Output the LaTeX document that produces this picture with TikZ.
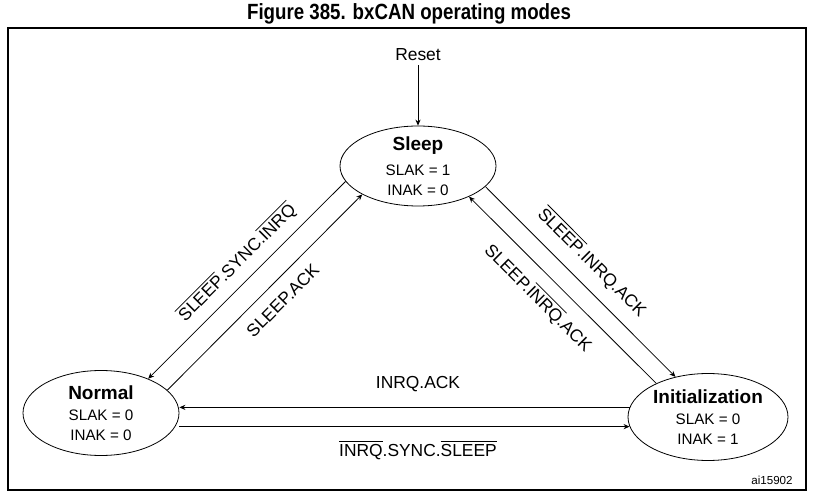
\documentclass[tikz,border=0pt]{standalone}
\usepackage{fontspec}
\setmainfont{Liberation Sans}
\newfontfamily\narrowsans[FakeStretch=0.85]{Liberation Sans}
\usepackage{tikz}
\usetikzlibrary{arrows.meta,shapes.geometric}
\newcommand{\ovl}[1]{$\overline{\mbox{#1}}$}
\newcommand{\modename}[1]{{\fontsize{9.5}{11}\selectfont\bfseries #1}}

\begin{document}
\begin{tikzpicture}[
  x=0.5pt, y=-0.5pt,
  mode/.style={draw, ellipse, line width=0.4pt, inner xsep=0pt, inner ysep=-2pt,
    align=center, font=\fontsize{7.6}{9.7}\selectfont},
  arr/.style={-{Stealth[length=3pt, width=2.6pt]}, line width=0.4pt},
  lbl/.style={font=\fontsize{8.7}{10}\selectfont, inner sep=2pt},
  frame/.style={line width=0.6pt}
]
  \useasboundingbox (0,0) rectangle (814,497);
  \node[font=\narrowsans\fontsize{11}{13}\selectfont\bfseries] (title) at (409,14)
    {Figure 385. bxCAN operating modes};
  \draw[frame] (8,28) rectangle (806,490);

  % operating modes
  \node[mode, minimum width=78pt, minimum height=40pt] (sleep) at (418,166)
    {\modename{Sleep}\\[3.1pt] SLAK = 1\\ INAK = 0};
  \node[mode, minimum width=78pt, minimum height=42.5pt] (normal) at (101,413)
    {\modename{Normal}\\[0.8pt] SLAK = 0\\ INAK = 0};
  \node[mode, minimum width=80pt, minimum height=43.5pt] (init) at (708,417)
    {\modename{Initialization}\\[1.1pt] SLAK = 0\\ INAK = 1};

  \node[lbl] (reset) at (418,55) {Reset};
  \draw[arr] (reset) -- (sleep);

  % sleep <-> normal
  \draw[arr] (sleep.192) -- node[lbl, sloped, above=3pt, pos=0.48]
    {\ovl{SLEEP}.SYNC.\ovl{INRQ}} (normal.36);
  \draw[arr] (normal.19.4) -- node[lbl, sloped, below=4pt, pos=0.525]
    {SLEEP.ACK} (sleep.207);

  % sleep <-> initialization
  \draw[arr] (sleep.343) -- node[lbl, sloped, above=4.3pt, pos=0.48]
    {\ovl{SLEEP}.INRQ.ACK} (init.129);
  \draw[arr] (init.147.5) -- node[lbl, sloped, below=4pt, pos=0.544]
    {SLEEP.\ovl{INRQ}.ACK} (sleep.329);

  % normal <-> initialization
  \draw[arr] (init.173) -- node[lbl, above=5.6pt, pos=0.47]
    {INRQ.ACK} (init.173 -| normal.east);
  \draw[arr] (normal.east |- init.187) -- node[lbl, below=4.6pt, pos=0.53]
    {\ovl{INRQ}.SYNC.\ovl{SLEEP}} (init.187);

  \node[font=\fontsize{5.8}{7}\selectfont] (figid) at (772,480) {ai15902};
\end{tikzpicture}
\end{document}
